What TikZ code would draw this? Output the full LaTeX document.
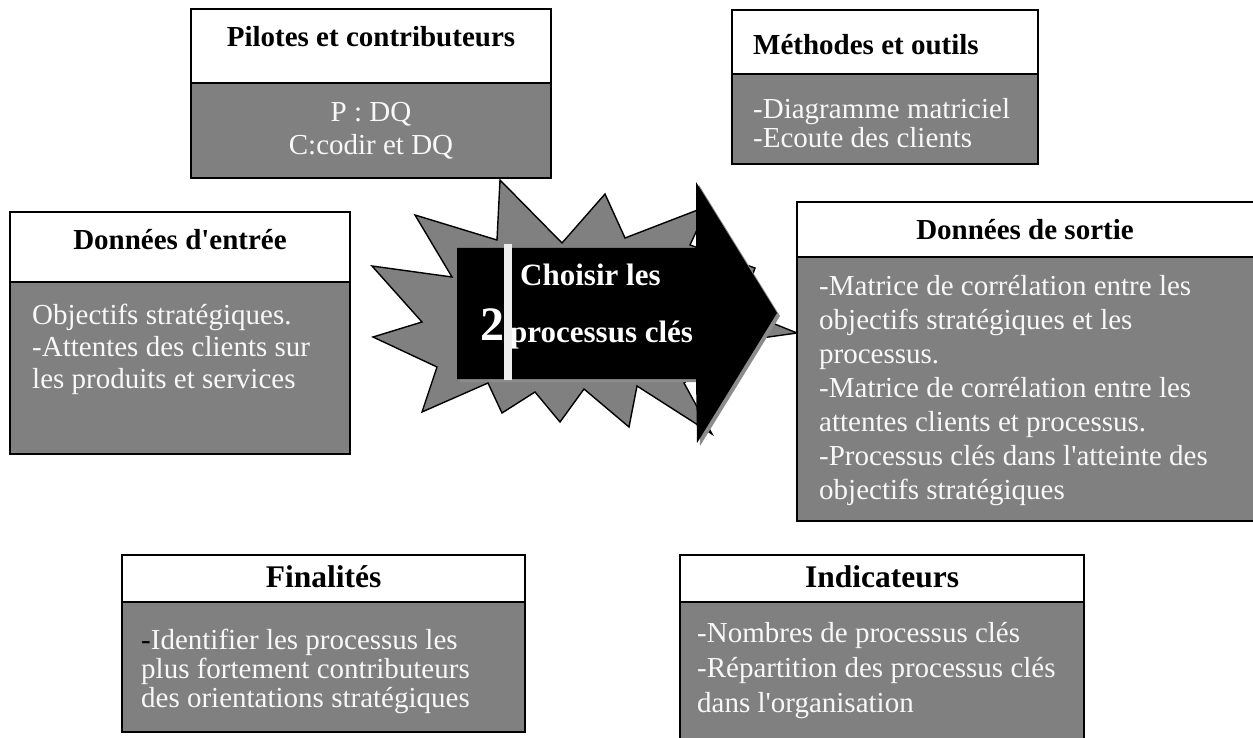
\documentclass[tikz,border=0pt]{standalone}
\usepackage{fontspec}
\setmainfont{Liberation Serif}
% plain family without TeX quote mapping, so ' stays a straight apostrophe
\newfontfamily\tnr{Liberation Serif}
\definecolor{boxgray}{RGB}{128,128,128}
\definecolor{shadowgray}{RGB}{140,140,140}
\definecolor{barwhite}{RGB}{238,238,238}
\definecolor{bodywhite}{RGB}{248,248,248}
\begin{document}
\begin{tikzpicture}[x=1pt,y=-1pt,
  frame/.style={draw=black,line width=1.6pt,inner sep=0pt,outer sep=0pt,anchor=north west},
  headbox/.style={frame,fill=white},
  bodybox/.style={frame,fill=boxgray},
  ttl/.style={font=\tnr\fontsize{29}{34}\selectfont\bfseries,text=black,inner sep=0pt,anchor=base},
  bigttl/.style={font=\tnr\fontsize{31.5}{38}\selectfont\bfseries,text=black,inner sep=0pt,anchor=base},
  bodytxt/.style={font=\tnr\fontsize{29}{#1}\selectfont,text=bodywhite,inner sep=0pt,anchor=base west},
  centretxt/.style={font=\tnr\bfseries\fontsize{31}{36}\selectfont,text=white,inner sep=0pt,anchor=base west},
  burst/.style={fill=boxgray,draw=black,line width=1.4pt,line join=miter}
]
\useasboundingbox (0,0) rectangle (1253,738);

% explosion shape behind the arrow
\draw[burst] (500,180) -- (497,240) -- (415,215) -- (452,277) -- (372,266)
  -- (422,322) -- (373,337) -- (437,367) -- (422,412) -- (488,383)
  -- (502,413) -- (535,392) -- (560,422) -- (584,389) -- (629,427)
  -- (637,386) -- (712,434) -- (684,383) -- (740,341) -- (797,333)
  -- (740,310) -- (755,268) -- (690,245) -- (708,206) -- (625,238)
  -- (605,194) -- (562,243) -- cycle;

% block arrow with its shadow
\fill[shadowgray,shift={(3,3)}] (457,248) -- (696,248) -- (696,182) -- (777,313)
  -- (697,443) -- (696,379) -- (457,379) -- cycle;
\fill[black] (457,248) -- (696,248) -- (696,182) -- (777,313)
  -- (697,443) -- (696,379) -- (457,379) -- cycle;

\node[centretxt,font=\tnr\bfseries\fontsize{48}{50}\selectfont] (num) at (480,340) {2};
\node[centretxt] (step1) at (520,285) {Choisir les};
\node[centretxt] (step2) at (510,342) {processus clés};
\fill[barwhite] (504,244) rectangle (512,380);

% Pilotes et contributeurs
\node[headbox,minimum width=360,minimum height=74] (pilH) at (191,9) {};
\node[bodybox,minimum width=360,minimum height=95] (pilB) at (191,83) {};
\node[ttl] (pilT) at (371,47) {Pilotes et contributeurs};
\node[bodytxt=33,anchor=base] (pilX) at (371,122)
  {\parbox[t]{340pt}{\centering P : DQ\\C:codir et DQ}};

% Methodes et outils
\node[headbox,minimum width=306,minimum height=64] (metH) at (732,10) {};
\node[bodybox,minimum width=306,minimum height=90] (metB) at (732,74) {};
\node[ttl,anchor=base west] (metT) at (753,55) {Méthodes et outils};
\node[bodytxt=29] (metX) at (753,119)
  {\parbox[t]{290pt}{\raggedright -Diagramme matriciel\\-Ecoute des clients}};

% Donnees d'entree
\node[headbox,minimum width=340,minimum height=70] (entH) at (10,212) {};
\node[bodybox,minimum width=340,minimum height=172] (entB) at (10,282) {};
\node[ttl] (entT) at (180,250) {Données d'entrée};
\node[bodytxt=32] (entX) at (32,324)
  {\parbox[t]{320pt}{\raggedright Objectifs stratégiques.\\-Attentes des clients sur\\les produits et services}};

% Donnees de sortie
\node[headbox,minimum width=459,minimum height=55] (sorH) at (797,202) {};
\node[bodybox,minimum width=459,minimum height=264] (sorB) at (797,257) {};
\node[ttl] (sorT) at (1025,240) {Données de sortie};
\node[bodytxt=34] (sorX) at (819,295)
  {\parbox[t]{430pt}{\raggedright -Matrice de corrélation entre les\\objectifs stratégiques et les\\processus.\\-Matrice de corrélation entre les\\attentes clients et processus.\\-Processus clés dans l'atteinte des\\objectifs stratégiques}};

% Finalites
\node[headbox,minimum width=403,minimum height=47] (finH) at (122,555) {};
\node[bodybox,minimum width=403,minimum height=130] (finB) at (122,602) {};
\node[bigttl] (finT) at (323.5,587) {Finalités};
\node[bodytxt=29] (finX) at (141,649)
  {\parbox[t]{380pt}{\raggedright \textcolor{black}{-}Identifier les processus les\\plus fortement contributeurs\\des orientations stratégiques}};

% Indicateurs
\node[headbox,minimum width=404,minimum height=47] (indH) at (680,555) {};
\node[bodybox,minimum width=404,minimum height=143] (indB) at (680,602) {};
\node[bigttl] (indT) at (882,587) {Indicateurs};
\node[bodytxt=35] (indX) at (697,642)
  {\parbox[t]{380pt}{\raggedright -Nombres de processus clés\\-Répartition des processus clés\\dans l'organisation}};
\end{tikzpicture}
\end{document}
